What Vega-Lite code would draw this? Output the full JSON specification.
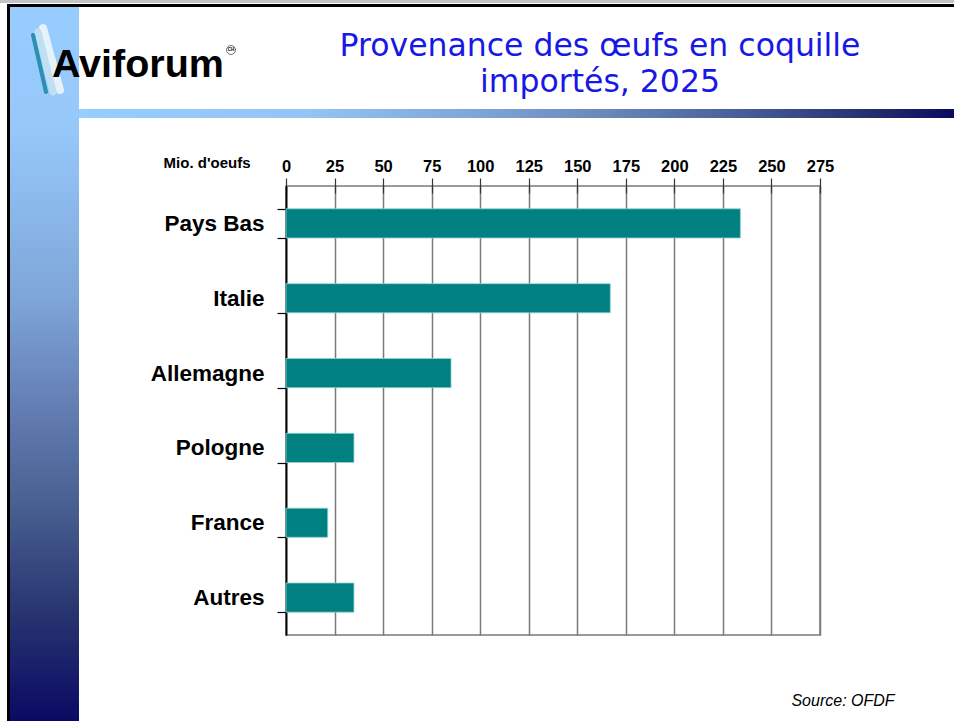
{
  "$schema": "https://vega.github.io/schema/vega-lite/v6.json",
  "width": 534,
  "height": 449,
  "autosize": {"type": "none"},
  "padding": {"left": 286, "top": 186, "right": 134, "bottom": 86},
  "background": "white",
  "config": {
    "view": {"stroke": "#7a7a7a", "strokeWidth": 1.5},
    "font": "Liberation Sans"
  },
  "layer": [
    {
      "data": {"values": [{}]},
      "mark": {"type": "rect", "fill": "#c4c4c4"},
      "encoding": {"x": {"value": -286}, "x2": {"value": 668}, "y": {"value": -186}, "y2": {"value": -183}}
    },
    {
      "data": {"values": [{}]},
      "mark": {
        "type": "rect",
        "fill": {
          "gradient": "linear", "x1": 0, "y1": 0, "x2": 0, "y2": 1,
          "stops": [
            {"offset": 0, "color": "#99ccff"},
            {"offset": 0.17, "color": "#96c8fa"},
            {"offset": 0.41, "color": "#7ea5d8"},
            {"offset": 0.55, "color": "#6580b5"},
            {"offset": 0.69, "color": "#4a6293"},
            {"offset": 0.85, "color": "#28346f"},
            {"offset": 1, "color": "#0a0a64"}
          ]
        }
      },
      "encoding": {"x": {"value": -276}, "x2": {"value": -207}, "y": {"value": -179}, "y2": {"value": 535}}
    },
    {
      "data": {"values": [{}]},
      "mark": {
        "type": "rect",
        "fill": {
          "gradient": "linear", "x1": 0, "y1": 0, "x2": 1, "y2": 0,
          "stops": [
            {"offset": 0, "color": "#99ccff"},
            {"offset": 0.25, "color": "#93c6f6"},
            {"offset": 0.45, "color": "#7fa6d8"},
            {"offset": 0.6, "color": "#6a88b8"},
            {"offset": 0.75, "color": "#48609a"},
            {"offset": 0.9, "color": "#26306f"},
            {"offset": 1, "color": "#0a0a60"}
          ]
        }
      },
      "encoding": {"x": {"value": -207}, "x2": {"value": 668}, "y": {"value": -77}, "y2": {"value": -68}}
    },
    {
      "data": {"values": [{}]},
      "mark": {"type": "rect", "fill": "black"},
      "encoding": {"x": {"value": -279}, "x2": {"value": 668}, "y": {"value": -182}, "y2": {"value": -179}}
    },
    {
      "data": {"values": [{}]},
      "mark": {"type": "rect", "fill": "black"},
      "encoding": {"x": {"value": -279}, "x2": {"value": -276}, "y": {"value": -182}, "y2": {"value": 535}}
    },
    {
      "data": {"values": [{}]},
      "mark": {"type": "rule", "stroke": "#e6f2fb", "strokeWidth": 8, "strokeCap": "round"},
      "encoding": {"x": {"value": -243}, "x2": {"value": -226}, "y": {"value": -158}, "y2": {"value": -96}}
    },
    {
      "data": {"values": [{}]},
      "mark": {"type": "rule", "stroke": "#bfe0f2", "strokeWidth": 7, "strokeCap": "round"},
      "encoding": {"x": {"value": -248}, "x2": {"value": -233}, "y": {"value": -154}, "y2": {"value": -94}}
    },
    {
      "data": {"values": [{}]},
      "mark": {"type": "rule", "stroke": "#2a8fb0", "strokeWidth": 4, "strokeCap": "round"},
      "encoding": {"x": {"value": -253}, "x2": {"value": -240}, "y": {"value": -151}, "y2": {"value": -94}}
    },
    {
      "data": {"values": [{}]},
      "mark": {"type": "text", "text": "Aviforum", "font": "Liberation Sans", "fontWeight": "bold", "fontSize": 39.5, "align": "left", "baseline": "alphabetic", "color": "black"},
      "encoding": {"x": {"value": -234}, "y": {"value": -109}}
    },
    {
      "data": {"values": [{}]},
      "mark": {"type": "point", "shape": "circle", "size": 80, "filled": false, "stroke": "black", "strokeWidth": 0.8},
      "encoding": {"x": {"value": -55}, "y": {"value": -136}}
    },
    {
      "data": {"values": [{}]},
      "mark": {"type": "text", "text": "CH", "fontSize": 4.5, "fontWeight": "bold", "align": "center", "baseline": "middle", "color": "black"},
      "encoding": {"x": {"value": -55}, "y": {"value": -136}}
    },
    {
      "data": {"values": [{}]},
      "mark": {"type": "text", "text": ["Provenance des œufs en coquille", "importés, 2025"], "font": "DejaVu Sans", "fontSize": 31.5, "lineHeight": 36, "align": "center", "baseline": "alphabetic", "color": "#1818e6"},
      "encoding": {"x": {"value": 314}, "y": {"value": -130}}
    },
    {
      "data": {"values": [{}]},
      "mark": {"type": "text", "text": "Source: OFDF", "font": "Liberation Sans", "fontStyle": "italic", "fontSize": 16, "align": "center", "baseline": "alphabetic", "color": "black"},
      "encoding": {"x": {"value": 557}, "y": {"value": 520}}
    },
    {
      "data": {
        "values": [
          {"pays": "Pays Bas", "mio": 234},
          {"pays": "Italie", "mio": 167},
          {"pays": "Allemagne", "mio": 85},
          {"pays": "Pologne", "mio": 35},
          {"pays": "France", "mio": 21.5},
          {"pays": "Autres", "mio": 35}
        ]
      },
      "mark": {"type": "bar", "fill": "#008080", "stroke": "#8fd6d6", "strokeWidth": 0.8},
      "encoding": {
        "y": {
          "field": "pays",
          "type": "nominal",
          "sort": null,
          "scale": {"paddingInner": 0.61, "paddingOuter": 0.305},
          "axis": {
            "title": null,
            "tickBand": "extent",
            "tickSize": 9,
            "tickColor": "black",
            "tickWidth": 1.2,
            "domainColor": "black",
            "domainWidth": 1.8,
            "labelFont": "Liberation Sans",
            "labelFontSize": 22.5,
            "labelFontWeight": "bold",
            "labelColor": "black",
            "labelPadding": 13,
            "grid": false
          }
        },
        "x": {
          "field": "mio",
          "type": "quantitative",
          "scale": {"domain": [0, 275], "nice": false},
          "axis": {
            "orient": "top",
            "values": [0, 25, 50, 75, 100, 125, 150, 175, 200, 225, 250, 275],
            "offset": -7,
            "tickSize": 15,
            "tickColor": "#333333",
            "tickWidth": 1.2,
            "domain": false,
            "grid": true,
            "gridColor": "#7a7a7a",
            "gridWidth": 1.5,
            "labelFlush": false,
            "labelOverlap": false,
            "labelFont": "Liberation Sans",
            "labelFontWeight": "bold",
            "labelFontSize": 16.5,
            "labelColor": "black",
            "labelPadding": 4,
            "title": "Mio. d'oeufs",
            "titleFont": "Liberation Sans",
            "titleFontSize": 15,
            "titleFontWeight": "bold",
            "titleColor": "black",
            "titleAlign": "right",
            "titleBaseline": "middle",
            "titleAngle": 0,
            "titleX": -36,
            "titleY": -31
          }
        }
      }
    }
  ]
}
